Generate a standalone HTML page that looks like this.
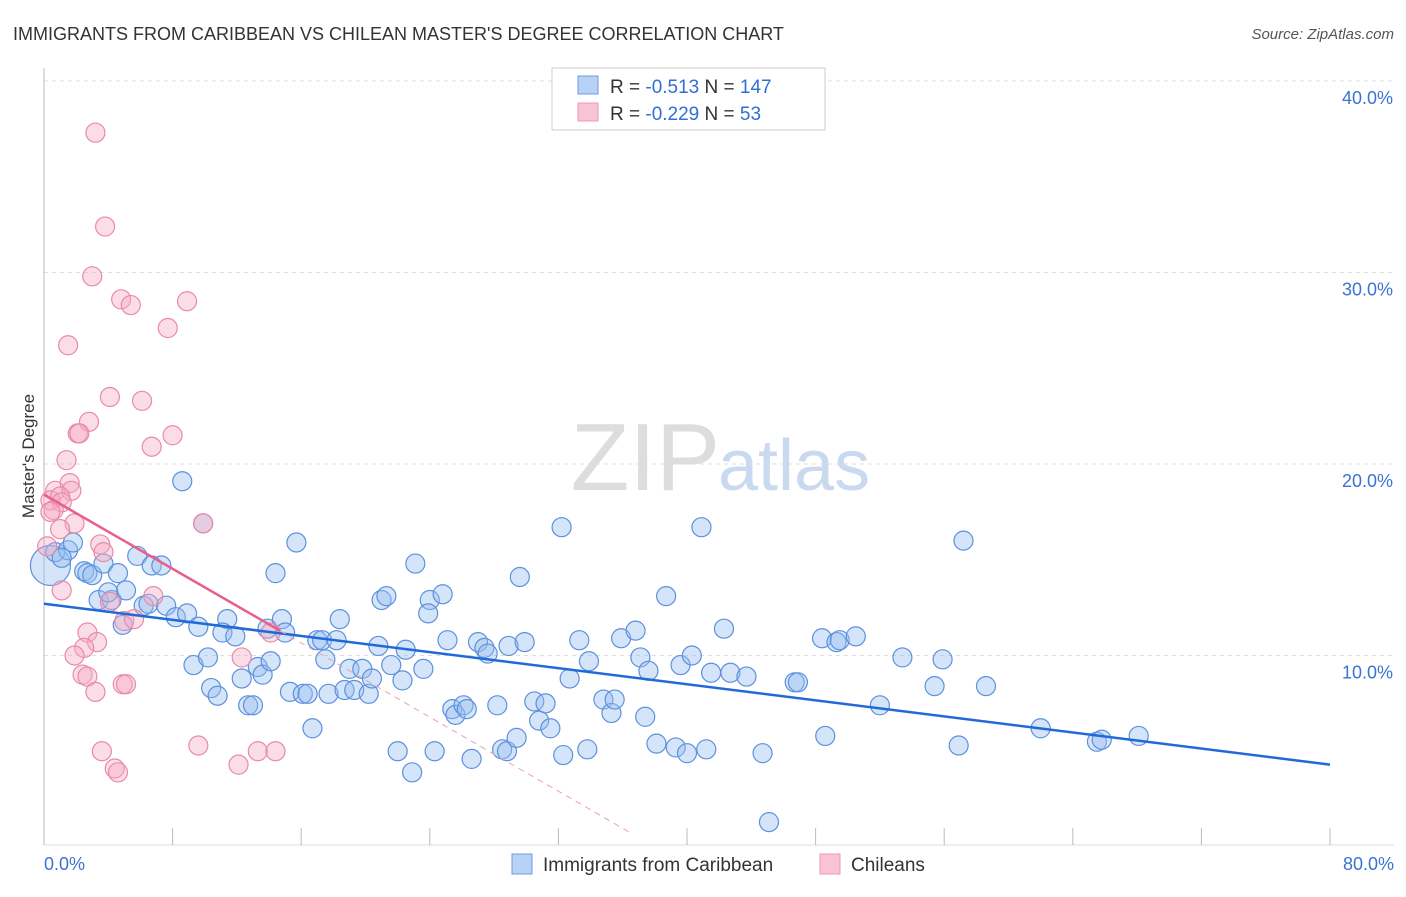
<!DOCTYPE html>
<html><head><meta charset="utf-8"><style>
body{margin:0;background:#fff;font-family:"Liberation Sans",sans-serif}
svg text{font-family:"Liberation Sans",sans-serif}
</style></head><body>
<svg id="c" width="1406" height="892" xmlns="http://www.w3.org/2000/svg">
<text x="13" y="40" font-size="18" fill="#333">IMMIGRANTS FROM CARIBBEAN VS CHILEAN MASTER'S DEGREE CORRELATION CHART</text>
<text x="1394" y="39" font-size="15" fill="#555" font-style="italic" text-anchor="end">Source: ZipAtlas.com</text>
<text x="720" y="490" font-size="96" fill="#ddd" font-family="Liberation Serif,serif" text-anchor="end">ZIP</text>
<text x="718" y="490" font-size="72" fill="#c9daf0">atlas</text>
<g id="grid"></g>
<g id="axes"></g>
<g id="marks"></g>
<text transform="translate(34,456) rotate(-90)" font-size="17" fill="#333" text-anchor="middle">Master's Degree</text>
<g>
<rect x="552" y="68" width="273" height="62" fill="#fff" stroke="#ccc"/>
<rect x="578" y="76" width="20" height="18" fill="#b7d2f5" stroke="#6c9ae0"/>
<rect x="578" y="103" width="20" height="18" fill="#f8c3d4" stroke="#ec9ab5"/>
<text x="610" y="93" font-size="19" fill="#333">R = <tspan fill="#2f6fd6">-0.513</tspan>   N = <tspan fill="#2f6fd6">147</tspan></text>
<text x="610" y="120" font-size="19" fill="#333">R = <tspan fill="#2f6fd6">-0.229</tspan>   N =   <tspan fill="#2f6fd6">53</tspan></text>
</g>
<g>
<rect x="512" y="854" width="20" height="20" fill="#b7d2f5" stroke="#6c9ae0"/>
<text x="543" y="871" font-size="19" fill="#333">Immigrants from Caribbean</text>
<rect x="820" y="854" width="20" height="20" fill="#f8c3d4" stroke="#ec9ab5"/>
<text x="851" y="871" font-size="19" fill="#333">Chileans</text>
</g>
</svg>
<script>
const xTicks=[0,8,16,24,32,40,48,56,64,72,80];
const yTicks=[10,20,30,40];
const yTickLabels=["10.0%","20.0%","30.0%","40.0%"];
const xLabels=["0.0%","80.0%"];
const blueX=[0.4,0.7,1.5,1.8,1.1,2.5,2.7,3.0,3.7,4.6,5.8,6.7,7.3,8.6,9.9,3.4,4.2,5.1,4.0,6.2,6.5,7.6,8.2,8.9,4.9,9.6,11.4,11.1,11.9,13.9,14.8,15.0,14.4,15.7,9.3,10.2,10.4,10.8,12.3,13.3,13.6,14.1,12.7,13.0,15.3,16.1,16.4,16.7,17.0,17.3,18.2,18.4,17.5,17.7,18.7,19.3,19.0,19.8,20.2,20.4,20.8,21.6,21.0,21.3,22.5,22.3,23.1,22.0,22.9,23.6,24.0,24.3,23.9,24.8,25.1,25.4,25.6,26.1,26.3,26.6,27.0,27.4,27.6,28.2,28.5,28.8,28.9,29.4,29.6,29.9,30.5,30.8,31.2,31.5,32.2,32.3,32.7,33.3,33.8,33.9,34.8,35.3,35.5,35.9,36.8,37.1,37.4,37.6,38.1,38.7,39.3,39.6,40.0,40.3,40.9,41.2,41.5,42.3,42.7,43.7,44.7,45.1,46.7,46.9,48.4,48.6,49.3,49.5,50.5,52.0,53.4,55.4,55.9,56.9,57.2,58.6,62.0,65.5,65.8,68.1];
const blueY=[14.7,15.4,15.5,15.9,15.1,14.4,14.3,14.2,14.8,14.3,15.2,14.7,14.7,19.1,16.9,12.9,12.9,13.4,13.3,12.6,12.7,12.6,12.0,12.2,11.6,11.5,11.9,11.2,11.0,11.4,11.9,11.2,14.3,15.9,9.5,9.9,8.3,7.9,8.8,9.4,9.0,9.7,7.4,7.4,8.1,8.0,8.0,6.2,10.8,10.8,10.8,11.9,9.8,8.0,8.2,8.2,9.3,9.3,8.0,8.8,10.5,9.5,12.9,13.1,10.3,8.7,14.8,5.0,3.9,9.3,12.9,5.0,12.2,13.2,10.8,7.2,6.9,7.4,7.2,4.6,10.7,10.4,10.1,7.4,5.1,5.0,10.5,5.7,14.1,10.7,7.6,6.6,7.5,6.2,16.7,4.8,8.8,10.8,5.1,9.7,7.7,7.0,7.7,10.9,11.3,9.9,6.8,9.2,5.4,13.1,5.2,9.5,4.9,10.0,16.7,5.1,9.1,11.4,9.1,8.9,4.9,1.3,8.6,8.6,10.9,5.8,10.7,10.8,11.0,7.4,9.9,8.4,9.8,5.3,16.0,8.4,6.2,5.5,5.6,5.8];
const pinkX=[3.2,3.8,3.0,4.8,5.4,8.9,7.7,1.5,4.1,6.1,2.8,2.1,2.2,8.0,6.7,1.4,0.7,1.6,1.7,0.4,1.0,1.1,0.6,0.4,1.9,1.0,0.2,3.5,3.7,1.1,4.1,5.0,5.6,6.8,9.9,2.7,3.3,2.5,1.9,12.3,14.1,2.4,2.7,3.2,4.9,5.1,3.6,4.4,4.6,9.6,13.3,14.4,12.1];
const pinkY=[37.3,32.4,29.8,28.6,28.3,28.5,27.1,26.2,23.5,23.3,22.2,21.6,21.6,21.5,20.9,20.2,18.6,19.0,18.6,18.1,18.3,18.0,17.6,17.5,16.9,16.6,15.7,15.8,15.4,13.4,12.8,11.8,11.9,13.1,16.9,11.2,10.7,10.4,10.0,9.9,11.2,9.0,8.9,8.1,8.5,8.5,5.0,4.1,3.9,5.3,5.0,5.0,4.3];
const blueTrend=[12.7,4.3];
const pinkTrend=[18.4,-0.484];
const NS="http://www.w3.org/2000/svg";
const X=v=>44+v/80*1286, Y=v=>847-v*19.15;
function mk(t,a,p){const e=document.createElementNS(NS,t);for(const k in a)e.setAttribute(k,a[k]);p.appendChild(e);return e;}
const grid=document.getElementById('grid'),axes=document.getElementById('axes'),marks=document.getElementById('marks');
yTicks.forEach((t,i)=>{
 const l=mk('line',{x1:44,x2:1394,y1:Y(t),y2:Y(t),stroke:'#ddd','stroke-dasharray':'4,4'},grid);
 
 
 const tx=mk('text',{x:1393,y:Y(t)+23,'font-size':18,fill:'#3b73d1','text-anchor':'end'},axes);tx.textContent=yTickLabels[i];
 
 
});
const ax=mk('line',{x1:44,x2:44,y1:68,y2:845,stroke:'#bbb'},axes);


const bx=mk('line',{x1:44,x2:1394,y1:845,y2:845,stroke:'#ddd'},axes);


xTicks.forEach(t=>{const l=mk('line',{x1:X(t),x2:X(t),y1:828,y2:845,stroke:'#bbb'},axes);
 
 });
[[0,'start',44],[80,'end',1394]].forEach((d,i)=>{const tx=mk('text',{x:d[2],y:870,'font-size':18,fill:'#3b73d1','text-anchor':d[1]},axes);tx.textContent=xLabels[i];
 
 });
blueX.forEach((x,i)=>{const c=mk('circle',{cx:X(x),cy:Y(blueY[i]),r:i==0?20:9.5,fill:'rgba(150,190,240,0.4)',stroke:'#5d90dd','stroke-width':1.2},marks);
 
 });
pinkX.forEach((x,i)=>{const c=mk('circle',{cx:X(x),cy:Y(pinkY[i]),r:9.5,fill:'rgba(245,170,195,0.4)',stroke:'#e98aaa','stroke-width':1.2},marks);
 
 });
const bl=mk('line',{x1:X(0),y1:Y(blueTrend[0]),x2:X(80),y2:Y(blueTrend[1]),stroke:'#1f6ad8','stroke-width':2.5},marks);


const pe=(v)=>pinkTrend[0]+pinkTrend[1]*v;
const p1=mk('line',{x1:X(0),y1:Y(pe(0)),x2:X(14.7),y2:Y(pe(14.7)),stroke:'#e85f8c','stroke-width':2.5},marks);


const p2=mk('line',{x1:X(14.7),y1:Y(pe(14.7)),x2:X(36.6),y2:Y(pe(36.6)),stroke:'#e8a0b8','stroke-width':1,'stroke-dasharray':'6,5'},marks);


</script>
</body></html>
